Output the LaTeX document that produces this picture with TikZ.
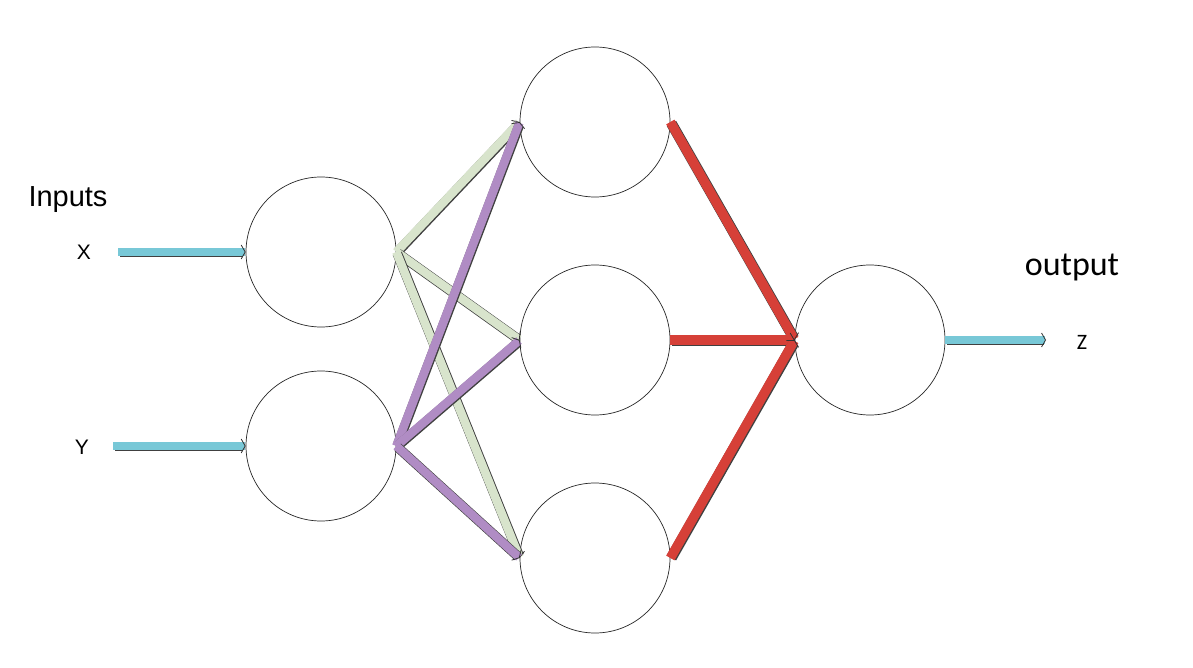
\documentclass[tikz,border=0pt]{standalone}
\usepackage{fontspec}
\setmainfont{Liberation Sans}
\newfontfamily\calib{Carlito}
\usetikzlibrary{arrows.meta}
\definecolor{cyanc}{RGB}{120,200,215}
\definecolor{greenc}{RGB}{216,228,204}
\definecolor{purplec}{RGB}{176,140,196}
\definecolor{redc}{RGB}{214,64,56}
\newcommand\nnconn[4]{%
  \draw[line width=#2+1.2, draw=black!75, transform canvas={shift={(0.6,0.6)}}, shorten >=3pt, shorten <=1pt] (#3) -- (#4);
  \draw[line width=#2, draw=#1, -{Straight Barb[length=4pt,width=14pt,color=black!80,line width=0.8pt]}] (#3) -- (#4);
}
\begin{document}
\begin{tikzpicture}[x=1pt,y=-1pt,
  neuron/.style={circle, draw=black!85, line width=0.7pt, minimum size=150pt, inner sep=0pt}]
\useasboundingbox (0,0) rectangle (1193,668);
\fill[white] (0,0) rectangle (1193,668);
\node[neuron] (i1) at (321,252) {};
\node[neuron] (i2) at (321,446) {};
\node[neuron] (h1) at (595,122) {};
\node[neuron] (h2) at (595,340) {};
\node[neuron] (h3) at (595,558) {};
\node[neuron] (o) at (870,340) {};
\node[font=\fontsize{29}{34}\selectfont] (inp) at (68,200) {Inputs};
\node[font=\fontsize{21}{25}\selectfont] (lx) at (84,252) {X};
\node[font=\fontsize{21}{25}\selectfont] (ly) at (82,447) {Y};
\node[font=\calib\fontsize{34}{40}\selectfont] (lout) at (1072,267) {output};
\node[font=\calib\fontsize{22}{26}\selectfont] (lz) at (1082,342) {Z};
\coordinate (sx) at (118,252);
\coordinate (sy) at (113,446);
\coordinate (ez) at (1046,340);
\nnconn{cyanc}{8}{sx}{i1.west}
\nnconn{cyanc}{8}{sy}{i2.west}
\nnconn{cyanc}{8}{o.east}{ez}
\nnconn{greenc}{8.5}{i1.east}{h1.west}
\nnconn{greenc}{8.5}{i1.east}{h2.west}
\nnconn{greenc}{8.5}{i1.east}{h3.west}
\nnconn{purplec}{8.5}{i2.east}{h1.west}
\nnconn{purplec}{8.5}{i2.east}{h2.west}
\nnconn{purplec}{8.5}{i2.east}{h3.west}
\nnconn{redc}{9.5}{h1.east}{o.west}
\nnconn{redc}{9.5}{h2.east}{o.west}
\nnconn{redc}{9.5}{h3.east}{o.west}
\end{tikzpicture}
\end{document}
